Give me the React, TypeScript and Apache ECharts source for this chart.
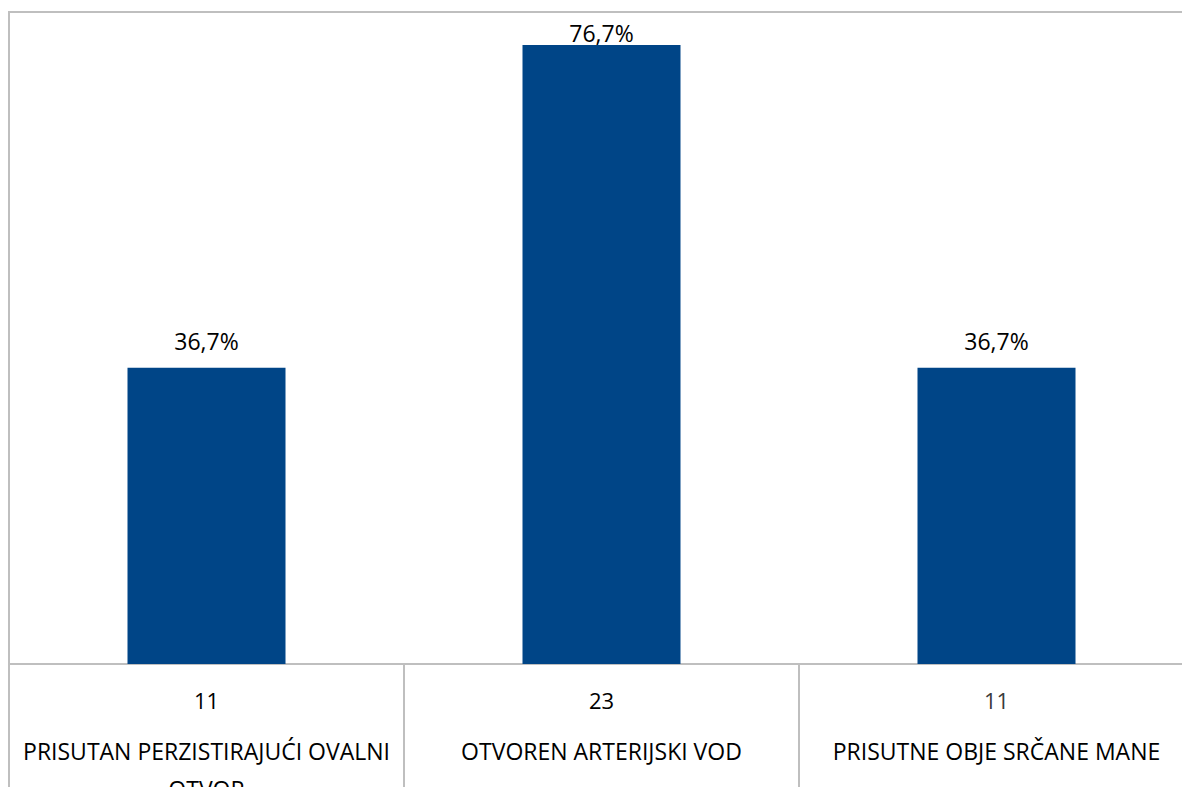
import React, { useEffect, useRef } from "react";
import * as echarts from "echarts";

const categories = [
  "PRISUTAN PERZISTIRAJUĆI OVALNI OTVOR",
  "OTVOREN ARTERIJSKI VOD",
  "PRISUTNE OBJE SRČANE MANE",
];
const counts = [11, 23, 11];
const percents = [36.7, 76.7, 36.7];
const labelDistances = [15, 1, 15];

const FONT = "Open Sans";
const GREY = "#bfbfbf";
const BLUE = "#004587";

function wrap(text: string, maxChars: number): string[] {
  const words = text.split(" ");
  const lines: string[] = [];
  let cur = "";
  for (const w of words) {
    const next = cur ? cur + " " + w : w;
    if (next.length > maxChars && cur) {
      lines.push(cur);
      cur = w;
    } else {
      cur = next;
    }
  }
  if (cur) lines.push(cur);
  return lines;
}

export default function App() {
  const ref = useRef<HTMLDivElement>(null);
  useEffect(() => {
    if (!ref.current) return;
    const chart = echarts.init(ref.current, undefined, { renderer: "svg" });
    chart.setOption({
      animation: false,
      backgroundColor: "#ffffff",
      grid: {
        left: 9,
        top: 12,
        width: 1185,
        height: 652,
        show: true,
        borderColor: GREY,
        borderWidth: 2,
        containLabel: false,
        outerBoundsMode: "none",
      },
      xAxis: {
        type: "category",
        data: categories,
        boundaryGap: true,
        axisLine: { show: true, lineStyle: { color: GREY, width: 2 } },
        axisTick: {
          show: true,
          length: 140,
          lineStyle: { color: GREY, width: 2 },
        },
        axisLabel: {
          margin: 4,
          interval: 0,
          hideOverlap: false,
          formatter: (value: string, idx: number) => {
            const key = idx === 2 ? "m" : "n";
            const lines = wrap(value, 30).map((l) => `{c|${l}}`).join("\n");
            return `{${key}|${counts[idx]}}\n${lines}`;
          },
          rich: {
            n: { fontFamily: FONT, fontSize: 22, color: "#000000", lineHeight: 64 },
            m: { fontFamily: FONT, fontSize: 22, color: "#3a3a3a", lineHeight: 64 },
            c: { fontFamily: FONT, fontSize: 23, color: "#000000", lineHeight: 38 },
          },
        },
        splitLine: { show: false },
      },
      yAxis: {
        type: "value",
        min: 0,
        max: 80.8,
        show: false,
        splitLine: { show: false },
      },
      series: [
        {
          type: "bar",
          barWidth: 158,
          itemStyle: { color: BLUE },
          data: percents.map((v, i) => ({
            value: v,
            label: { distance: labelDistances[i] },
          })),
          label: {
            show: true,
            position: "top",
            fontFamily: FONT,
            fontSize: 23,
            color: "#000000",
            formatter: (p: any) => `${String(p.value).replace(".", ",")}%`,
          },
        },
      ],
    });
    return () => chart.dispose();
  }, []);
  return (
    <div
      ref={ref}
      style={{ position: "absolute", left: 0, top: 0, width: 1182, height: 787 }}
    />
  );
}
